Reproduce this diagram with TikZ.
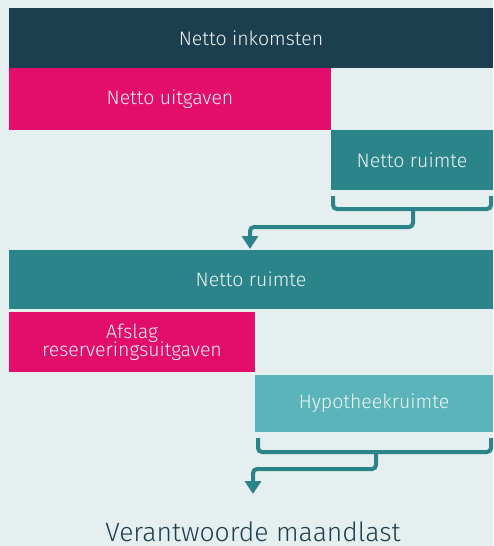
\documentclass[tikz,border=0pt]{standalone}
\usepackage{fontspec}
\setmainfont{Fira Sans}[UprightFont=* Light]
\usetikzlibrary{calc,arrows.meta}
\definecolor{cdark}{HTML}{1C3F4F}
\definecolor{cpink}{HTML}{E30E6B}
\definecolor{cteal}{HTML}{2A8489}
\definecolor{clteal}{HTML}{5AB4B9}
\definecolor{cbg}{HTML}{E6EFF0}
\definecolor{ctext}{HTML}{F0F5F5}
\tikzset{
  block/.style={anchor=north west, inner sep=0pt, outer sep=0pt, text=ctext,
    font=\fontsize{19.5}{21}\selectfont, align=center},
  brace/.style={draw=cteal, line width=4pt, rounded corners=4pt},
  flow/.style={brace, -{Triangle[width=16pt,length=13pt]}},
}
\begin{document}
\begin{tikzpicture}[x=1pt,y=-1pt]
\fill[cbg] (0,0) rectangle (493,546);
\useasboundingbox (0,0) rectangle (493,546);
\node[block, fill=cdark, minimum width=484pt, minimum height=60pt] (ink) at (9,8) {Netto inkomsten};
\node[block, fill=cpink, minimum width=322pt, minimum height=62pt] (uit) at (9,68) {Netto uitgaven};
\node[block, fill=cteal, minimum width=162pt, minimum height=60pt] (r1) at (331,130) {Netto ruimte};
\node[block, fill=cteal, minimum width=484pt, minimum height=59pt] (r2) at (9,250) {Netto ruimte};
\node[block, fill=cpink, minimum width=246pt, minimum height=60pt] (afs) at (9,312) {Afslag\\[-3pt]reserveringsuitgaven};
\node[block, fill=clteal, minimum width=238pt, minimum height=57pt] (hyp) at (255,375) {Hypotheekruimte};
\node[font=\fontsize{26.5}{28}\selectfont, text=cdark, inner sep=0pt, anchor=base] (ver) at (253,541) {Verantwoorde maandlast};
% bracket 1
\coordinate (b1l) at ($(r1.south west)+(2,6)$);
\coordinate (b1r) at ($(r1.south east)+(-2,6)$);
\draw[brace] (b1l) -- ++(0,13) -| (b1r);
\coordinate (s1) at (413,209);
\draw[flow] (s1) -- (413,227) -| ($(r2.north west)+(241,-1)$);
% bracket 2
\coordinate (b2l) at ($(hyp.south west)+(3,6)$);
\coordinate (b2r) at ($(hyp.south east)+(-2,6)$);
\draw[brace] (b2l) -- ++(0,14) -| (b2r);
\coordinate (s2) at (376,452);
\coordinate (a2) at (253,494);
\draw[flow] (s2) -- (376,469) -| (a2);
\end{tikzpicture}
\end{document}
